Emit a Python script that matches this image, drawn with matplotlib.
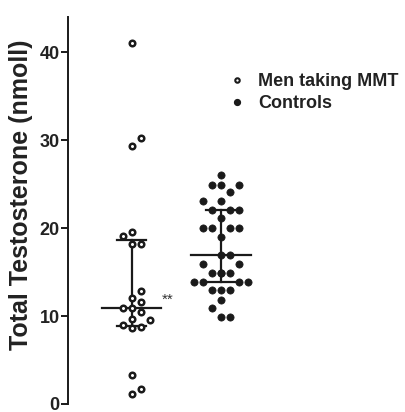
import numpy as np
import matplotlib
matplotlib.use("Agg")
import matplotlib.pyplot as plt
from matplotlib.lines import Line2D

plt.rcParams['font.family'] = ['Liberation Sans', 'DejaVu Sans']

# ---- data (nmol/l) ----
groups = ["Men taking MMT", "Controls"]
mmt = [41.0, 30.2, 29.3, 19.5, 19.1, 18.2, 18.2, 12.9, 12.1, 11.6, 10.9, 10.9,
       10.5, 9.7, 9.6, 9.0, 8.7, 8.6, 3.3, 1.7, 1.1]
controls = [26.0, 24.9, 24.9, 24.9, 24.1, 23.1, 23.1, 22.1, 22.1, 22.1, 21.1,
            20.0, 20.0, 20.0, 20.0, 19.0, 16.9, 16.9, 15.9, 15.9,
            14.9, 14.9, 14.9, 14.9, 13.9, 13.9, 13.9, 13.9, 13.0, 13.0, 13.0,
            11.8, 10.9, 9.9, 9.9]
yticks = [0, 10, 20, 30, 40]
annotation = "**"

INK = "#1a1a1a"

W, H = 405, 412
fig = plt.figure(figsize=(W / 100, H / 100), dpi=100)
ax = fig.add_axes([68 / W, 8 / H, 332 / W, (404 - 17) / H])
ax.set_ylim(0, 44)
ax.set_xlim(0.288, 4.01)


def swarm_offsets(vals, thr=1.05):
    order = np.argsort(vals)
    cols = {}
    offs = np.zeros(len(vals))
    cand = [0, 1, -1, 2, -2, 3, -3]
    for i in order:
        v = vals[i]
        for c in cand:
            if all(abs(v - u) >= thr for u in cols.get(c, [])):
                cols.setdefault(c, []).append(v)
                offs[i] = c
                break
    return offs


step = 0.101
for k, (vals, filled) in enumerate([(mmt, False), (controls, True)]):
    xc = k + 1
    v = np.array(vals)
    offs = swarm_offsets(v)
    med = np.median(v)
    q1, q3 = np.percentile(v, [25, 75], method='weibull')
    ax.plot([xc, xc], [q1, q3], color=INK, lw=1.6, zorder=2)
    ax.plot([xc - 0.163, xc + 0.163], [q1, q1], color=INK, lw=1.6, zorder=2)
    ax.plot([xc - 0.163, xc + 0.163], [q3, q3], color=INK, lw=1.6, zorder=2)
    ax.plot([xc - 0.336, xc + 0.336], [med, med], color=INK, lw=1.6, zorder=2)
    if filled:
        ax.plot(xc + offs * step, v, 'o', ms=5.2, mfc=INK, mec=INK, mew=0.5,
                ls='none', zorder=3)
    else:
        ax.plot(xc + offs * step, v, 'o', ms=4.0, mfc='white', mec=INK, mew=1.8,
                ls='none', zorder=3)

ax.text(1.41, 11.9, annotation, ha='center', va='center', fontsize=11,
        color="#333333")

for s in ['top', 'right', 'bottom']:
    ax.spines[s].set_visible(False)
ax.spines['left'].set_linewidth(1.4)
ax.spines['left'].set_color(INK)
ax.set_xticks([])
ax.set_yticks(yticks)
ax.tick_params(axis='y', length=5, width=1.4, color=INK, pad=1,
               labelsize=13, labelcolor="#222222")
for lbl in ax.get_yticklabels():
    lbl.set_fontweight('bold')
ax.set_ylabel("Total Testosterone (nmoll)", fontsize=18, fontweight='bold',
              color="#222222")
ax.yaxis.set_label_coords(33 / W, 217 / H, transform=fig.transFigure)

handles = [
    Line2D([], [], marker='o', ls='none', ms=3.2, mfc='white', mec=INK, mew=1.5),
    Line2D([], [], marker='o', ls='none', ms=4.2, mfc=INK, mec=INK),
]
leg = ax.legend(handles, groups, loc='upper left',
                bbox_to_anchor=(228 / W, 1 - 73 / H), bbox_transform=fig.transFigure,
                frameon=False, handlelength=1.0, handletextpad=0.65,
                labelspacing=0.28, borderaxespad=0, borderpad=0,
                prop={'weight': 'bold', 'size': 13})
for t in leg.get_texts():
    t.set_color("#222222")

fig.savefig("out.png", dpi=100)
